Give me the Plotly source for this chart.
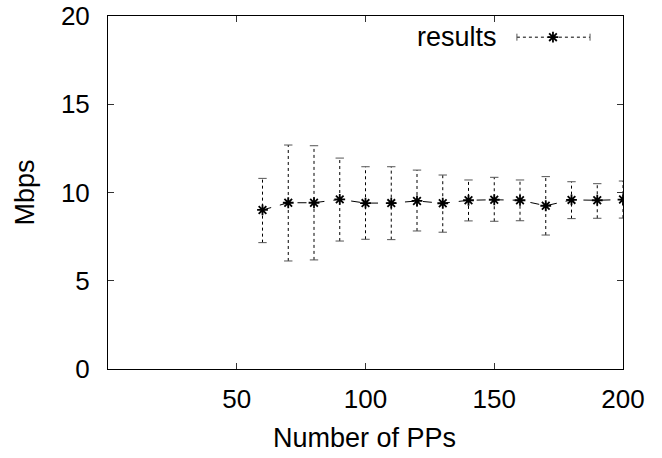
import plotly.graph_objects as go

# ---- data ----
pps = [60, 70, 80, 90, 100, 110, 120, 130, 140, 150, 160, 170, 180, 190, 200]
mbps = [9.01, 9.42, 9.42, 9.61, 9.40, 9.40, 9.52, 9.39, 9.56, 9.59, 9.56, 9.25, 9.58, 9.56, 9.60]
mbps_high = [10.80, 12.69, 12.65, 11.95, 11.46, 11.46, 11.27, 10.99, 10.71, 10.86, 10.71, 10.90, 10.61, 10.50, 10.65]
mbps_low = [7.16, 6.12, 6.18, 7.25, 7.35, 7.33, 7.82, 7.75, 8.39, 8.37, 8.40, 7.59, 8.52, 8.54, 8.55]

x_ticks = [50, 100, 150, 200]
y_ticks = [0, 5, 10, 15, 20]
series_name = "results"
x_title = "Number of PPs"
y_title = "Mbps"

FONT = "Liberation Sans, Arial, Helvetica, sans-serif"
FS_TICK = 26
FS_TEXT = 27

fig = go.Figure()

# error bars as dotted vertical segments
ex, ey = [], []
for x, lo, hi in zip(pps, mbps_low, mbps_high):
    ex += [x, x, None]
    ey += [lo, hi, None]
fig.add_trace(go.Scatter(x=ex, y=ey, mode="lines",
                         line=dict(color="black", width=1, dash="dot"),
                         hoverinfo="skip", showlegend=False))
# caps
fig.add_trace(go.Scatter(x=pps + pps, y=mbps_low + mbps_high, mode="markers",
                         marker=dict(symbol="line-ew-open", size=6, color="#555555",
                                     line=dict(color="#555555", width=1)),
                         hoverinfo="skip", showlegend=False))
# main line with star markers
fig.add_trace(go.Scatter(x=pps, y=mbps, mode="lines+markers",
                         line=dict(color="black", width=1, dash="dash"),
                         marker=dict(symbol="asterisk-open", size=9, color="black",
                                     line=dict(color="black", width=1.8)),
                         showlegend=False, name=series_name))

# legend sample on an overlay axis (0..1)
fig.add_trace(go.Scatter(x=[0.794, 0.936], y=[0.94, 0.94], mode="lines+markers",
                         line=dict(color="black", width=1, dash="dot"),
                         marker=dict(symbol="line-ns-open", size=5, color="#555555",
                                     line=dict(color="#555555", width=1)),
                         xaxis="x2", yaxis="y2", hoverinfo="skip", showlegend=False))
fig.add_trace(go.Scatter(x=[0.864], y=[0.94], mode="markers",
                         marker=dict(symbol="asterisk-open", size=9, color="black",
                                     line=dict(color="black", width=1.8)),
                         xaxis="x2", yaxis="y2", hoverinfo="skip", showlegend=False))

txt = dict(family=FONT, size=FS_TEXT, color="black")
fig.add_annotation(text=series_name, xref="paper", yref="paper",
                   x=0.759, y=0.94, xanchor="right", yanchor="middle",
                   showarrow=False, font=txt)
fig.add_annotation(text=x_title, xref="paper", yref="paper",
                   x=0.499, y=-0.195, xanchor="center", yanchor="middle",
                   showarrow=False, font=txt)
fig.add_annotation(text=y_title, xref="paper", yref="paper",
                   x=-0.162, y=0.499, xanchor="center", yanchor="middle",
                   textangle=-90, showarrow=False, font=txt)

axis_common = dict(showgrid=False, zeroline=False, showline=True,
                   linecolor="black", linewidth=1, mirror="ticks",
                   ticks="inside", ticklen=6, tickcolor="#333333",
                   automargin=False, ticklabeloverflow="allow",
                   tickfont=dict(family=FONT, size=FS_TICK, color="black"))

fig.update_layout(
    width=662, height=458,
    margin=dict(l=108, r=39, t=16, b=89, autoexpand=False),
    paper_bgcolor="white", plot_bgcolor="white",
    hovermode=False,
    xaxis=dict(range=[0, 200], tickvals=x_ticks, ticklabelstandoff=7, **axis_common),
    yaxis=dict(range=[0, 20], tickvals=y_ticks, ticklabelstandoff=12, **axis_common),
    xaxis2=dict(range=[0, 1], overlaying="x", visible=False),
    yaxis2=dict(range=[0, 1], overlaying="y", visible=False),
)

fig.write_html("out.html", config={"displayModeBar": False},
               post_script="document.body.style.margin='0px';")
